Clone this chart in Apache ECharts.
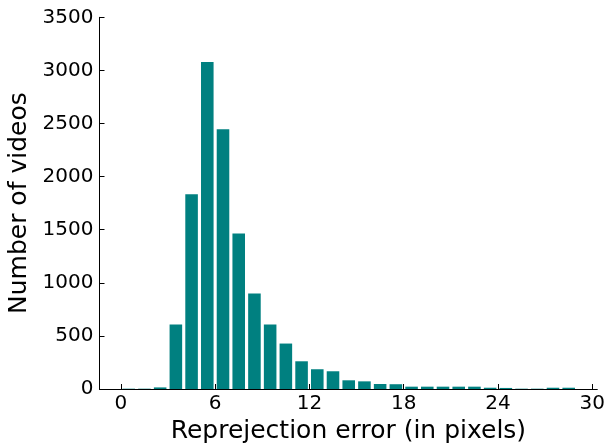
<!DOCTYPE html>
<html>
<head>
<meta charset="utf-8">
<script src="https://cdn.jsdelivr.net/npm/echarts@6/dist/echarts.min.js"></script>
<style>
  html, body { margin: 0; padding: 0; background: #fff; }
  #chart { width: 611px; height: 443px; }
</style>
</head>
<body>
<div id="chart"></div>
<script>
// 每个柱子对应 [bin, bin+1) 区间
const binStarts = [0, 1, 2, 3, 4, 5, 6, 7, 8, 9, 10, 11, 12, 13, 14, 15, 16, 17, 18, 19, 20, 21, 22, 23, 24, 25, 26, 27, 28, 29]
const videoCounts = [3, 3, 15, 607, 1833, 3078, 2446, 1465, 899, 607, 428, 261, 186, 167, 82, 72, 47, 45, 22, 22, 22, 22, 22, 12, 10, 3, 3, 12, 12, 0]
const xTicks = [0, 6, 12, 18, 24, 30]
const barColor = '#008080'
const font = 'DejaVu Sans'

const chart = echarts.init(document.getElementById('chart'))

const seriesData = binStarts.map((b, i) => [b, b + 1, videoCounts[i]])

const options = {
  animation: false,
  grid: {
    left: 99.5,
    right: 13.7,
    top: 17.3,
    bottom: 54,
    containLabel: false,
    outerBoundsMode: 'none'
  },
  xAxis: {
    type: 'value',
    min: -1.36,
    max: 30.32,
    name: 'Reprejection error (in pixels)',
    nameLocation: 'middle',
    nameGap: 27,
    nameTextStyle: { fontFamily: font, fontSize: 25, color: '#000' },
    axisLine: { show: true, lineStyle: { color: '#000', width: 1 } },
    axisTick: { show: true, inside: true, length: 5, customValues: xTicks, lineStyle: { color: '#000' } },
    axisLabel: { customValues: xTicks, fontFamily: font, fontSize: 20, color: '#000', margin: 5 },
    splitLine: { show: false }
  },
  yAxis: {
    type: 'value',
    min: 0,
    max: 3500,
    interval: 500,
    name: 'Number of videos',
    nameLocation: 'middle',
    nameGap: 61,
    nameTextStyle: { fontFamily: font, fontSize: 25, color: '#000' },
    axisLine: { show: true, onZero: false, lineStyle: { color: '#000', width: 1 } },
    axisTick: { show: true, inside: true, length: 5, lineStyle: { color: '#000' } },
    axisLabel: { fontFamily: font, fontSize: 20, color: '#000', margin: 6, formatter: (v) => String(v) },
    splitLine: { show: false }
  },
  series: [{
    type: 'custom',
    data: seriesData,
    renderItem: (params, api) => {
      // 柱宽 0.8，居中于区间
      const x0 = api.value(0) + 0.1
      const x1 = api.value(1) - 0.1
      const top = api.coord([x0, api.value(2)])
      const bottom = api.coord([x1, 0])
      return {
        type: 'rect',
        shape: { x: top[0], y: top[1], width: bottom[0] - top[0], height: bottom[1] - top[1] },
        style: { fill: barColor }
      }
    }
  }]
}
chart.setOption(options)
</script>
</body>
</html>
